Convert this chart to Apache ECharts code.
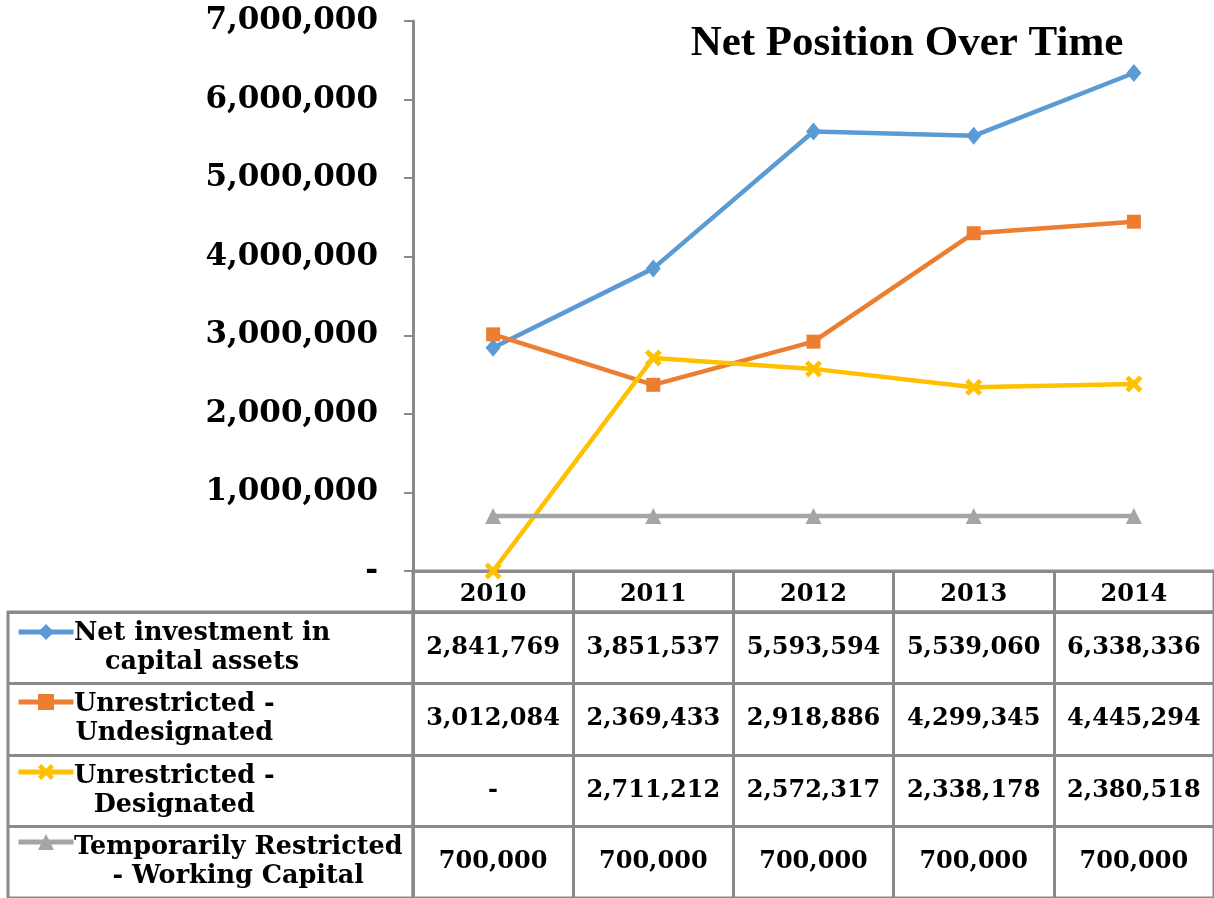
<!DOCTYPE html>
<html>
<head>
<meta charset="utf-8">
<script src="https://cdn.jsdelivr.net/npm/echarts@6/dist/echarts.min.js"></script>
<style>
  html, body { margin: 0; padding: 0; background: #fff; }
  #chart { width: 1214px; height: 898px; }
</style>
</head>
<body>
<div id="chart"></div>
<script>
const years = ['2010', '2011', '2012', '2013', '2014'];
const netInvestment = [2841769, 3851537, 5593594, 5539060, 6338336];
const undesignated = [3012084, 2369433, 2918886, 4299345, 4445294];
const designated = [0, 2711212, 2572317, 2338178, 2380518];
const workingCapital = [700000, 700000, 700000, 700000, 700000];

const seriesNames = [
  'Net investment in capital assets',
  'Unrestricted - Undesignated',
  'Unrestricted - Designated',
  'Temporarily Restricted - Working Capital'
];
// how the names wrap in the table's first column
const rowLabels = [
  'Net investment in\ncapital assets',
  'Unrestricted -\nUndesignated',
  'Unrestricted -\nDesignated',
  'Temporarily Restricted\n- Working Capital'
];
const seriesValues = [netInvestment, undesignated, designated, workingCapital];
const colors = ['#5b9bd5', '#ed7d31', '#ffc000', '#a5a5a5'];
const symbols = ['diamond', 'rect', 'path://M0,2 L2,0 L5,3 L8,0 L10,2 L7,5 L10,8 L8,10 L5,7 L2,10 L0,8 L3,5 Z', 'triangle'];
const symbolSizes = [[15, 18], 14, 17, 16];

const yMin = 0, yMax = 7000000, yStep = 1000000;

const fmt = v => (v === 0 ? '-' : v.toLocaleString('en-US'));
const numFont = 'DejaVu Serif';
const gridLine = '#8a8a8a';

const chart = echarts.init(document.getElementById('chart'));

const lineSeries = seriesNames.map((name, k) => ({
  name: name,
  type: 'line',
  xAxisIndex: 0,
  yAxisIndex: 0,
  data: seriesValues[k],
  symbol: symbols[k],
  symbolSize: symbolSizes[k],
  lineStyle: { width: 4.5, color: colors[k] },
  itemStyle: { color: colors[k] },
  z: 3 + k
}));

// table cells: one point per cell, label shows the value
const cellData = [];
seriesValues.forEach((vals, r) => {
  vals.forEach((v, i) => cellData.push([i, r, v]));
});

const option = {
  animation: false,
  title: {
    text: 'Net Position Over Time',
    left: 902,
    top: 17,
    textAlign: 'center',
    textStyle: { fontFamily: 'Liberation Serif', fontSize: 43, fontWeight: 'bold', color: '#000' }
  },
  legend: {
    data: seriesNames,
    orient: 'vertical',
    left: 16,
    top: 622,
    padding: 0,
    itemWidth: 55,
    itemHeight: 20,
    itemGap: 52,
    selectedMode: false,
    lineStyle: { width: 5 },
    formatter: () => ''
  },
  grid: [
    // plot area
    { left: 413, right: 0, top: 21, height: 550 },
    // header row with years
    { left: 413, right: 0, top: 571, height: 41, show: true, borderColor: gridLine, borderWidth: 3 },
    // value cells
    { left: 413, right: 0, top: 612, bottom: 0, show: true, borderColor: gridLine, borderWidth: 3 },
    // row name column
    { left: 8, width: 405, top: 612, bottom: 0, show: true, borderColor: gridLine, borderWidth: 3 }
  ],
  xAxis: [
    {
      gridIndex: 0,
      type: 'category',
      data: years,
      boundaryGap: true,
      axisLine: { lineStyle: { color: gridLine, width: 3 } },
      axisTick: { show: false },
      axisLabel: { margin: 12, fontFamily: numFont, fontSize: 24, fontWeight: 'bold', color: '#000', interval: 0 }
    },
    {
      gridIndex: 1,
      type: 'category',
      data: years,
      axisLine: { show: false },
      axisTick: { show: false },
      axisLabel: { show: false },
      splitLine: { show: true, interval: 0, lineStyle: { color: gridLine, width: 3 } }
    },
    {
      gridIndex: 2,
      type: 'category',
      data: years,
      axisLine: { show: false },
      axisTick: { show: false },
      axisLabel: { show: false },
      splitLine: { show: true, interval: 0, lineStyle: { color: gridLine, width: 3 } }
    },
    {
      gridIndex: 3,
      type: 'category',
      data: [''],
      show: false
    }
  ],
  yAxis: [
    {
      gridIndex: 0,
      type: 'value',
      min: yMin,
      max: yMax,
      interval: yStep,
      axisLine: { show: true, lineStyle: { color: gridLine, width: 3 } },
      axisTick: { show: true, length: 9, lineStyle: { color: gridLine, width: 2 } },
      splitLine: { show: false },
      axisLabel: {
        margin: 35,
        fontFamily: numFont,
        fontSize: 31,
        fontWeight: 'bold',
        color: '#000',
        formatter: v => fmt(v)
      }
    },
    { gridIndex: 1, type: 'value', show: false },
    {
      gridIndex: 2,
      type: 'category',
      data: rowLabels,
      inverse: true,
      axisLine: { show: false },
      axisTick: { show: false },
      axisLabel: { show: false },
      splitLine: { show: true, interval: 0, lineStyle: { color: gridLine, width: 3 } }
    },
    {
      gridIndex: 3,
      type: 'category',
      data: rowLabels,
      inverse: true,
      axisLine: { show: false },
      axisTick: { show: false },
      splitLine: { show: true, interval: 0, lineStyle: { color: gridLine, width: 3 } },
      axisLabel: {
        inside: true,
        margin: 66,
        align: 'left',
        interval: 0,
        formatter: v => v.split('\n').map(s => '{c|' + s + '}').join('\n'),
        rich: {
          c: { fontFamily: numFont, fontSize: 25.5, fontWeight: 'bold', color: '#000', lineHeight: 29, align: 'center' }
        }
      }
    }
  ],
  series: lineSeries.concat([{
    name: 'table',
    type: 'scatter',
    xAxisIndex: 2,
    yAxisIndex: 2,
    silent: true,
    symbolSize: 0.1,
    itemStyle: { color: 'rgba(0,0,0,0)', opacity: 1 },
    data: cellData,
    label: {
      show: true,
      position: 'inside',
      formatter: p => fmt(p.value[2]),
      fontFamily: numFont,
      fontSize: 24,
      fontWeight: 'bold',
      color: '#000',
      textBorderWidth: 0
    }
  }])
};

chart.setOption(option);
</script>
</body>
</html>
